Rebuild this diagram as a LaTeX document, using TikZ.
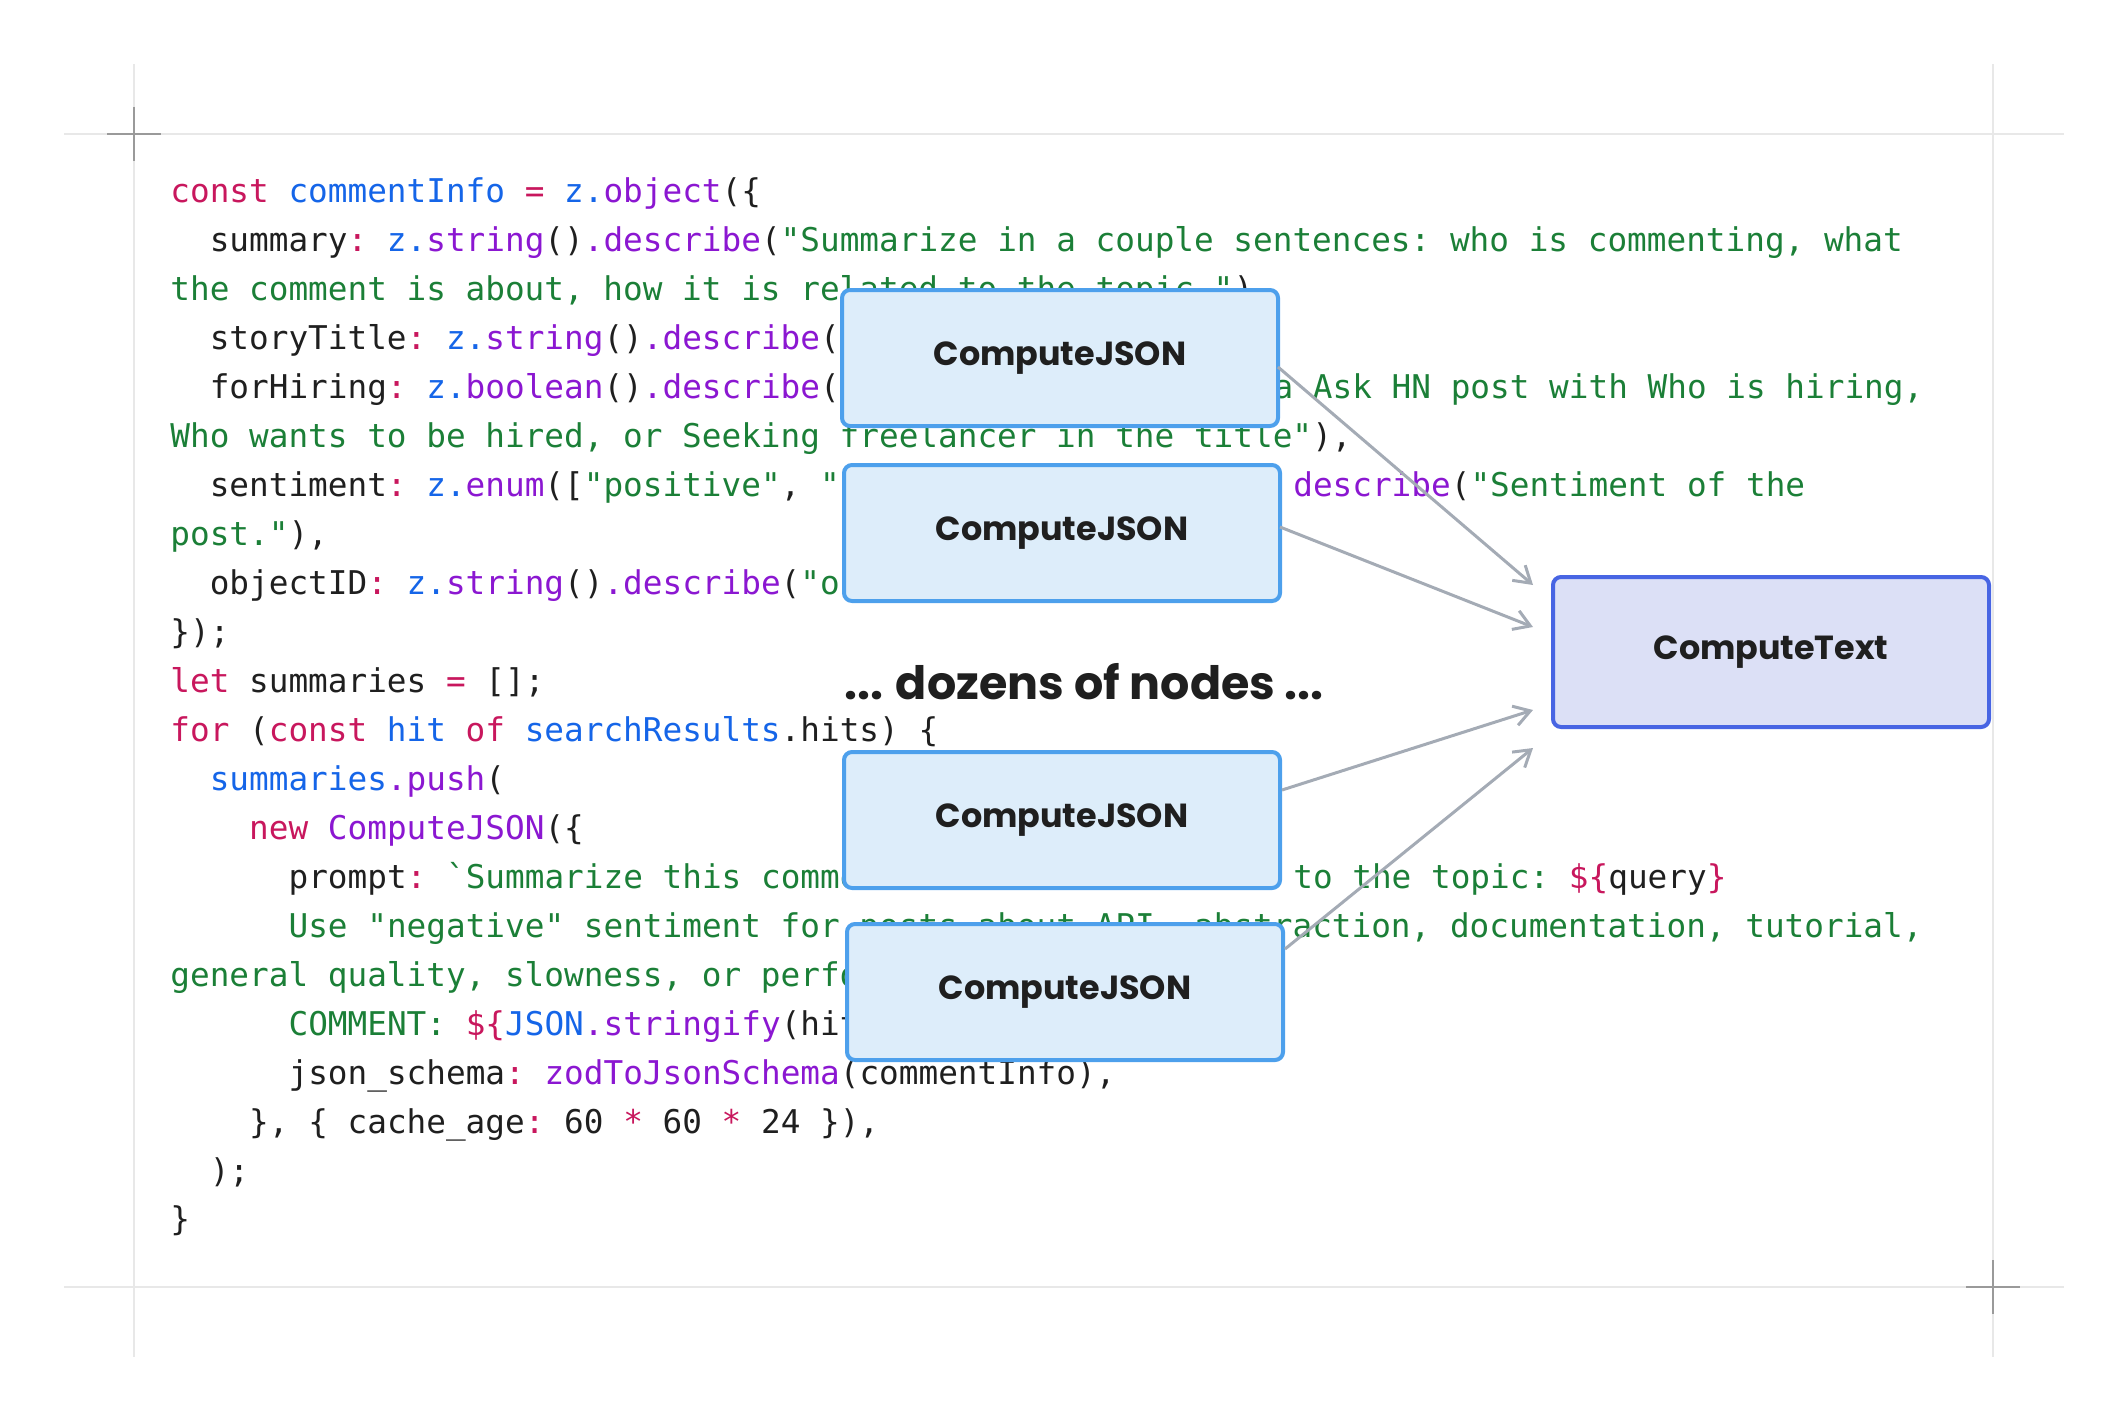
\documentclass[tikz,border=0pt]{standalone}
\usepackage{fontspec}
\setmonofont{DejaVu Sans Mono}
\newfontfamily\handfont{Poppins}
\usetikzlibrary{arrows.meta,calc}
\definecolor{kwred}{HTML}{C8175D}
\definecolor{idblue}{HTML}{1565E8}
\definecolor{fnpurple}{HTML}{8B17D1}
\definecolor{strgreen}{HTML}{1B7F37}
\definecolor{codeblack}{HTML}{1F1F1F}
\definecolor{jsonfill}{HTML}{DDEDFA}
\definecolor{jsonedge}{HTML}{4DA0EC}
\definecolor{textfill}{HTML}{DCE0F6}
\definecolor{textedge}{HTML}{4865E3}
\definecolor{arrowgray}{HTML}{A4ABB5}
\definecolor{framegray}{HTML}{E8E8E8}
\definecolor{crossgray}{HTML}{9A9A9A}
\newcommand\kw[1]{\textcolor{kwred}{#1}}
\newcommand\idn[1]{\textcolor{idblue}{#1}}
\newcommand\fnc[1]{\textcolor{fnpurple}{#1}}
\newcommand\strg[1]{\textcolor{strgreen}{#1}}
\tikzset{
  codeline/.style={anchor=base west, inner sep=0pt, text=codeblack,
    font=\ttfamily\fontsize{16.35pt}{20pt}\selectfont},
  jsonbox/.style={draw=jsonedge, fill=jsonfill, line width=2pt, rounded corners=4pt,
    minimum width=218pt, minimum height=68pt, text=codeblack,
    font=\handfont\bfseries\fontsize{16.7pt}{20pt}\selectfont},
  textbox/.style={draw=textedge, fill=textfill, line width=2pt, rounded corners=4pt,
    minimum width=218pt, minimum height=75pt, text=codeblack,
    font=\handfont\bfseries\fontsize{16.7pt}{20pt}\selectfont},
  link/.style={draw=arrowgray, line width=1.5pt, -{Straight Barb[length=8pt,width=10pt]}},
  frameline/.style={draw=framegray, line width=1pt},
  cross/.style={draw=crossgray, line width=1pt}
}
\begin{document}
\begin{tikzpicture}[x=0.5pt,y=-0.5pt]
\useasboundingbox (0,0) rectangle (2128,1423);
% page frame
\draw[frameline] (64,134) -- (2064,134);
\draw[frameline] (64,1287) -- (2064,1287);
\draw[frameline] (134,64) -- (134,1357);
\draw[frameline] (1993,64) -- (1993,1357);
\draw[cross] (107,134) -- (161,134);
\draw[cross] (134,107) -- (134,161);
\draw[cross] (1966,1287) -- (2020,1287);
\draw[cross] (1993,1260) -- (1993,1314);
% code
\node[codeline] (l1) at (170,203) {\kw{const} \idn{commentInfo} \kw{=} \idn{z.}\fnc{object}(\{};
\node[codeline] (l2) at (209.4,251.95) {summary\kw{:} \idn{z.}\fnc{string}()\fnc{.describe}(\strg{"Summarize in a couple sentences: who is commenting, what}};
\node[codeline] (l3) at (170,300.9) {\strg{the comment is about, how it is related to the topic."}),};
\node[codeline] (l4) at (209.4,349.85) {storyTitle\kw{:} \idn{z.}\fnc{string}()\fnc{.describe}(};
\node[codeline] (l5) at (209.4,398.8) {forHiring\kw{:} \idn{z.}\fnc{boolean}()\fnc{.describe}(};
\node[codeline] (l5r) at (1273.2,398.8) {\strg{a Ask HN post with Who is hiring,}};
\node[codeline] (l6) at (170,447.75) {\strg{Who wants to be hired, or Seeking freelancer in the title"}),};
\node[codeline] (l7) at (209.4,496.7) {sentiment\kw{:} \idn{z.}\fnc{enum}([\strg{"positive"}, \strg{"}};
\node[codeline] (l7r) at (1292.9,496.7) {\fnc{describe}(\strg{"Sentiment of the}};
\node[codeline] (l8) at (170,545.65) {\strg{post."}),};
\node[codeline] (l9) at (209.4,594.6) {objectID\kw{:} \idn{z.}\fnc{string}()\fnc{.describe}(\strg{"o}};
\node[codeline] (l10) at (170,643.55) {\});};
\node[codeline] (l11) at (170,692.5) {\kw{let} summaries \kw{=} [];};
\node[codeline] (l12) at (170,741.45) {\kw{for} (\kw{const} \idn{hit} \kw{of} \idn{searchResults}.hits) \{};
\node[codeline] (l13) at (209.4,790.4) {\idn{summaries}\fnc{.push}(};
\node[codeline] (l14) at (248.8,839.35) {\kw{new} \fnc{ComputeJSON}(\{};
\node[codeline] (l15) at (288.2,888.3) {prompt\kw{:} \strg{`Summarize this comme}};
\node[codeline] (l15r) at (1292.9,888.3) {\strg{to the topic: }\kw{\$\{}query\kw{\}}};
\node[codeline] (l16) at (288.2,937.25) {\strg{Use "negative" sentiment for posts about API, abstraction, documentation, tutorial,}};
\node[codeline] (l17) at (170,986.2) {\strg{general quality, slowness, or perfo}};
\node[codeline] (l18) at (288.2,1035.15) {\strg{COMMENT: }\kw{\$\{}\idn{JSON}\fnc{.stringify}(hit};
\node[codeline] (l19) at (288.2,1084.1) {json\_schema\kw{:} \fnc{zodToJsonSchema}(commentInfo),};
\node[codeline] (l20) at (248.8,1133.05) {\}, \{ cache\_age\kw{:} 60 \kw{*} 60 \kw{*} 24 \}),};
\node[codeline] (l21) at (209.4,1182) {);};
\node[codeline] (l22) at (170,1230.95) {\}};
% nodes
\node[jsonbox] (j1) at (1060,358) {ComputeJSON};
\node[jsonbox] (j2) at (1062,533) {ComputeJSON};
\node[jsonbox] (j3) at (1062,820) {ComputeJSON};
\node[jsonbox] (j4) at (1065,992) {ComputeJSON};
\node[textbox] (ct) at (1771,652) {ComputeText};
\node[text=codeblack, font=\handfont\bfseries\fontsize{23pt}{27pt}\selectfont] (dz) at (1084,682) {... dozens of nodes ...};
% links
\draw[link] ($(j1.east)+(-2,9)$) -- ($(ct.north west)+(-18,10)$);
\draw[link] ($(j2.east)+(-2,-6)$) -- ($(ct.north west)+(-18,52)$);
\draw[link] ($(j3.east)+(0,-30)$) -- ($(ct.north west)+(-18,135)$);
\draw[link] ($(j4.north east)+(0,27)$) -- ($(ct.north west)+(-18,173)$);
\end{tikzpicture}
\end{document}
